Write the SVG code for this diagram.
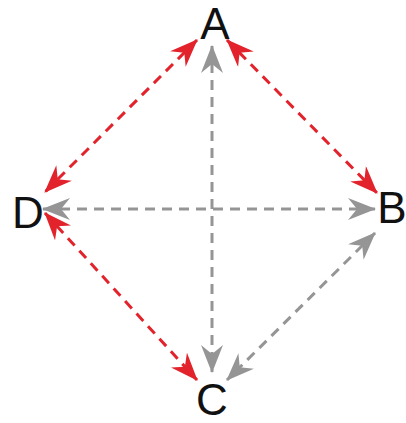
<svg xmlns="http://www.w3.org/2000/svg" width="406" height="423" viewBox="0 0 406 423">
<style>
.lbl{font-family:"Liberation Sans",Arial,sans-serif;font-size:44px;fill:#111;text-anchor:middle}
.red{stroke:#e3232c;stroke-width:3;stroke-dasharray:10 7;fill:none}
.gray{stroke:#959595;stroke-width:3;stroke-dasharray:10 7;fill:none}
</style>
<defs>
<marker id="mr" viewBox="0 0 28 22" refX="27" refY="11" markerWidth="28" markerHeight="22" markerUnits="userSpaceOnUse" orient="auto-start-reverse">
<path d="M28,11 L0,0 L9,11 L0,22 Z" fill="#e3232c"/>
</marker>
<marker id="mg" viewBox="0 0 28 22" refX="27" refY="11" markerWidth="28" markerHeight="22" markerUnits="userSpaceOnUse" orient="auto-start-reverse">
<path d="M28,11 L0,0 L9,11 L0,22 Z" fill="#959595"/>
</marker>
</defs>
<g id="connectors">
<line class="gray" x1="212" y1="46" x2="212" y2="372" marker-start="url(#mg)" marker-end="url(#mg)"/>
<line class="gray" x1="43" y1="209" x2="375" y2="209" marker-start="url(#mg)" marker-end="url(#mg)"/>
<line class="gray" x1="375" y1="233" x2="227" y2="380" marker-start="url(#mg)" marker-end="url(#mg)"/>
<line class="red" x1="197" y1="40" x2="45" y2="192" marker-start="url(#mr)" marker-end="url(#mr)"/>
<line class="red" x1="227" y1="40" x2="377" y2="193" marker-start="url(#mr)" marker-end="url(#mr)"/>
<line class="red" x1="45" y1="213" x2="197" y2="380" marker-start="url(#mr)" marker-end="url(#mr)"/>
</g>
<g id="node-A"><text class="lbl" x="215" y="39">A</text></g>
<g id="node-B"><text class="lbl" x="392" y="223">B</text></g>
<g id="node-C"><text class="lbl" x="212" y="415">C</text></g>
<g id="node-D"><text class="lbl" x="28" y="228">D</text></g>
</svg>
